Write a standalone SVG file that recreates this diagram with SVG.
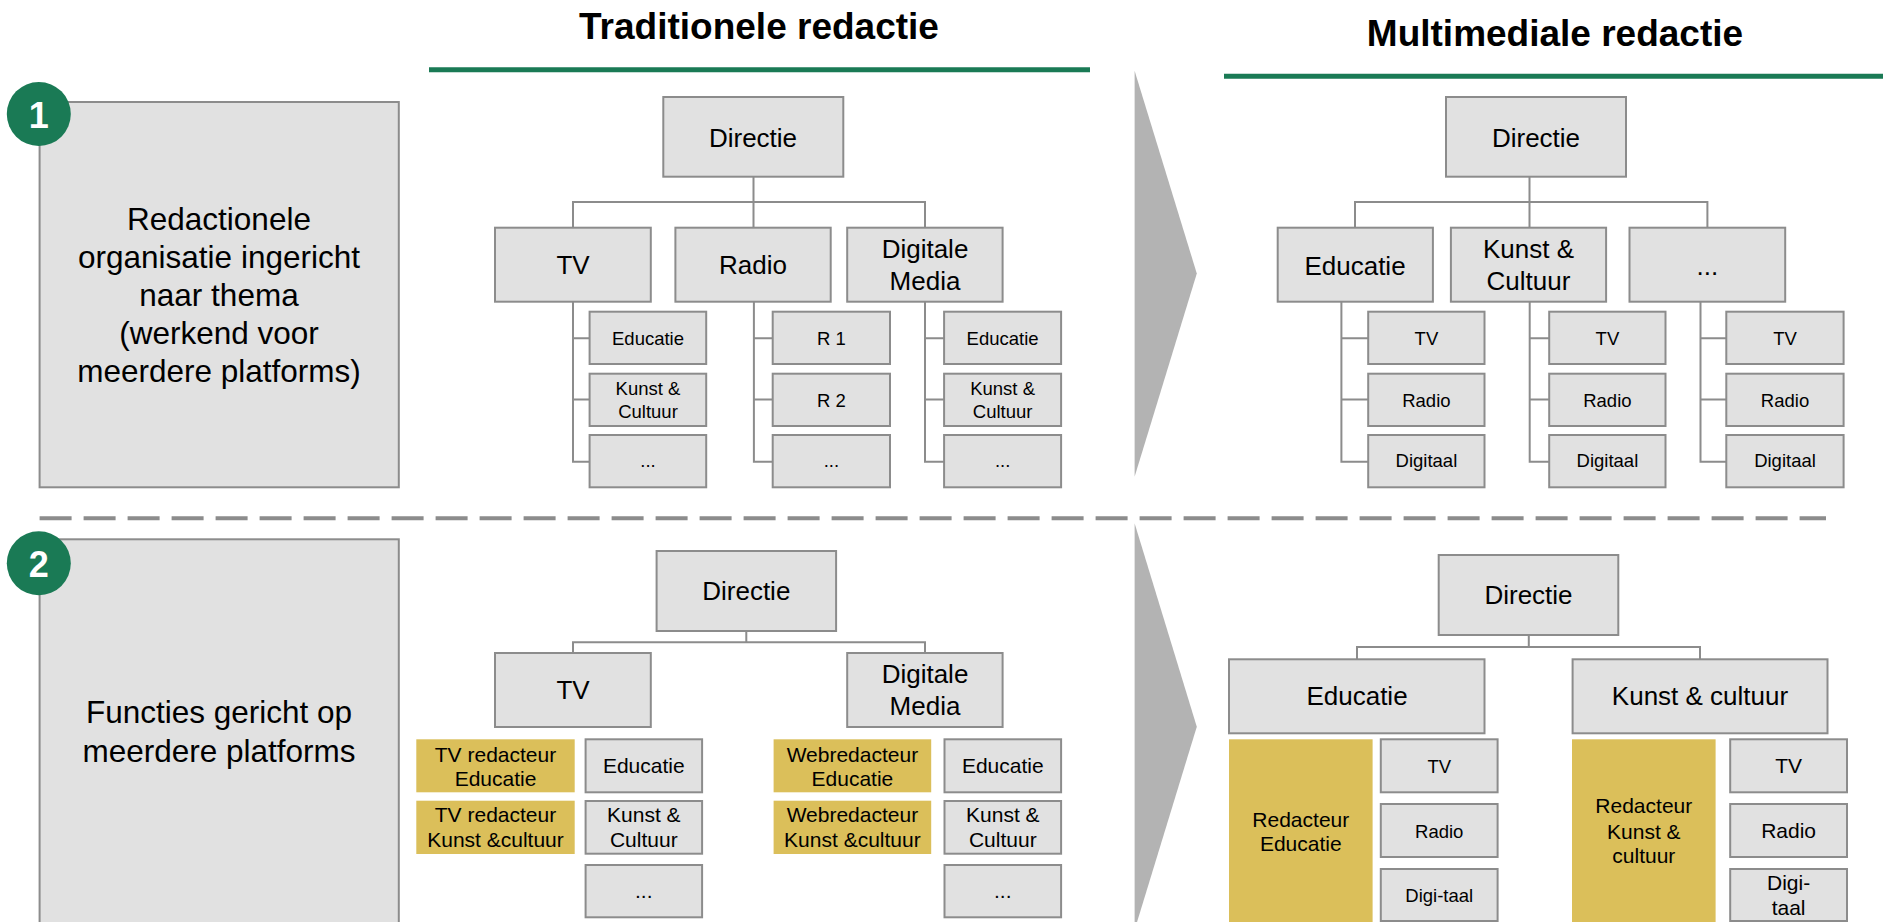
<svg xmlns="http://www.w3.org/2000/svg" width="1883" height="922" viewBox="0 0 1883 922">
<style>
text{font-family:"Liberation Sans",Arial,sans-serif;fill:#000;text-anchor:middle}
.b{fill:#e1e1e1;stroke:#8c8c8c;stroke-width:2}
.g{fill:#dbbf5a}
.c{fill:none;stroke:#8c8c8c;stroke-width:2}
.t{font-weight:bold;font-size:37px}
.big{font-size:31.5px}
.m{font-size:26px}
.s{font-size:18.5px}
.n{font-size:21px}
.badge{fill:#1a7a55}
.bt{fill:#fff;font-weight:bold;font-size:36px}
</style>
<rect width="1883" height="922" fill="#fff"/>
<g id="titles">
<text class="t" x="759" y="39">Traditionele redactie</text>
<line x1="429" y1="69.7" x2="1090" y2="69.7" stroke="#1a7a55" stroke-width="5"/>
<text class="t" x="1555" y="46">Multimediale redactie</text>
<line x1="1224" y1="76.3" x2="1883" y2="76.3" stroke="#1a7a55" stroke-width="5"/>
</g>
<g id="arrows">
<polygon points="1134.6,70.7 1196.8,273.5 1134.6,476.7" fill="#b3b3b3"/>
<polygon points="1134.6,523.3 1196.8,726.7 1134.6,930" fill="#b3b3b3"/>
</g>
<line id="divider" x1="39.6" y1="518.3" x2="1826" y2="518.3" stroke="#8c8c8c" stroke-width="4" stroke-dasharray="32 12"/>
<g id="connectors">
<path class="c" d="M753.5,177V202M573,228V202H925V228M753.5,202V228"/>
<path class="c" d="M573,302V461.7H590M573,338.3H590M573,399.5H590"/>
<path class="c" d="M753.9,302V461.7H773M753.9,338.3H773M753.9,399.5H773"/>
<path class="c" d="M925,302V461.7H944M925,338.3H944M925,399.5H944"/>
<path class="c" d="M1529.5,177V202M1355,228V202H1707.4V228M1529.5,202V228"/>
<path class="c" d="M1341.4,302V461.7H1368M1341.4,338.3H1368M1341.4,399.5H1368"/>
<path class="c" d="M1529.7,302V461.7H1549M1529.7,338.3H1549M1529.7,399.5H1549"/>
<path class="c" d="M1700.5,302V461.7H1726M1700.5,338.3H1726M1700.5,399.5H1726"/>
<path class="c" d="M746.3,631V642.3M573,653V642.3H925V653"/>
<path class="c" d="M1528.8,635V647M1357,659.3V647H1700V659.3"/>
</g>
<g id="box1">
<rect class="b" x="39.6" y="102" width="359.2" height="385.3"/>
<text class="big" x="219" y="230">Redactionele</text>
<text class="big" x="219" y="268">organisatie ingericht</text>
<text class="big" x="219" y="306">naar thema</text>
<text class="big" x="219" y="344">(werkend voor</text>
<text class="big" x="219" y="382">meerdere platforms)</text>
</g>
<g id="badge1"><circle class="badge" cx="38.8" cy="114" r="32"/><text class="bt" x="38.8" y="127.7">1</text></g>
<g id="box2">
<rect class="b" x="39.6" y="539.3" width="359.2" height="400"/>
<text class="big" x="219" y="723.3">Functies gericht op</text>
<text class="big" x="219" y="761.7">meerdere platforms</text>
</g>
<g id="badge2"><circle class="badge" cx="38.8" cy="563.3" r="32"/><text class="bt" x="38.8" y="576.7">2</text></g>

<g id="t1-directie"><rect class="b" x="663.3" y="97" width="180" height="79.7"/><text class="m" x="753" y="146.7">Directie</text></g>
<g id="t1-tv"><rect class="b" x="495" y="227.7" width="155.8" height="74"/><text class="m" x="573" y="274">TV</text></g>
<g id="t1-radio"><rect class="b" x="675.4" y="227.7" width="155.3" height="74"/><text class="m" x="753" y="274">Radio</text></g>
<g id="t1-digitale"><rect class="b" x="847.2" y="227.7" width="155.4" height="74"/><text class="m" x="925" y="258.3">Digitale</text><text class="m" x="925" y="290">Media</text></g>
<g id="t1-tv-edu"><rect class="b" x="589.6" y="311.7" width="116.6" height="52.3"/><text class="s" x="648" y="345">Educatie</text></g>
<g id="t1-tv-kunst"><rect class="b" x="589.6" y="373.7" width="116.6" height="52.3"/><text class="s" x="648" y="395">Kunst &amp;</text><text class="s" x="648" y="418.3">Cultuur</text></g>
<g id="t1-tv-more"><rect class="b" x="589.6" y="435" width="116.6" height="52.3"/><text class="s" x="648" y="466.7">...</text></g>
<g id="t1-r1"><rect class="b" x="772.7" y="311.7" width="117.3" height="52.3"/><text class="s" x="831.4" y="345">R 1</text></g>
<g id="t1-r2"><rect class="b" x="772.7" y="373.7" width="117.3" height="52.3"/><text class="s" x="831.4" y="407">R 2</text></g>
<g id="t1-r-more"><rect class="b" x="772.7" y="435" width="117.3" height="52.3"/><text class="s" x="831.4" y="466.7">...</text></g>
<g id="t1-dm-edu"><rect class="b" x="944.1" y="311.7" width="117" height="52.3"/><text class="s" x="1002.6" y="345">Educatie</text></g>
<g id="t1-dm-kunst"><rect class="b" x="944.1" y="373.7" width="117" height="52.3"/><text class="s" x="1002.6" y="395">Kunst &amp;</text><text class="s" x="1002.6" y="418.3">Cultuur</text></g>
<g id="t1-dm-more"><rect class="b" x="944.1" y="435" width="117" height="52.3"/><text class="s" x="1002.6" y="466.7">...</text></g>

<g id="m1-directie"><rect class="b" x="1446" y="97" width="180" height="79.7"/><text class="m" x="1536" y="146.7">Directie</text></g>
<g id="m1-edu"><rect class="b" x="1277.7" y="227.7" width="155.2" height="74"/><text class="m" x="1355" y="275">Educatie</text></g>
<g id="m1-kunst"><rect class="b" x="1450.9" y="227.7" width="155.2" height="74"/><text class="m" x="1528.5" y="258.3">Kunst &amp;</text><text class="m" x="1528.5" y="290">Cultuur</text></g>
<g id="m1-more"><rect class="b" x="1629.5" y="227.7" width="155.7" height="74"/><text class="m" x="1707.4" y="275">...</text></g>
<g id="m1-edu-tv"><rect class="b" x="1368.2" y="311.7" width="116.3" height="52.3"/><text class="s" x="1426.4" y="345">TV</text></g>
<g id="m1-edu-radio"><rect class="b" x="1368.2" y="373.7" width="116.3" height="52.3"/><text class="s" x="1426.4" y="407">Radio</text></g>
<g id="m1-edu-dig"><rect class="b" x="1368.2" y="435" width="116.3" height="52.3"/><text class="s" x="1426.4" y="467">Digitaal</text></g>
<g id="m1-kunst-tv"><rect class="b" x="1549.2" y="311.7" width="116.3" height="52.3"/><text class="s" x="1607.4" y="345">TV</text></g>
<g id="m1-kunst-radio"><rect class="b" x="1549.2" y="373.7" width="116.3" height="52.3"/><text class="s" x="1607.4" y="407">Radio</text></g>
<g id="m1-kunst-dig"><rect class="b" x="1549.2" y="435" width="116.3" height="52.3"/><text class="s" x="1607.4" y="467">Digitaal</text></g>
<g id="m1-more-tv"><rect class="b" x="1726.3" y="311.7" width="117.3" height="52.3"/><text class="s" x="1785" y="345">TV</text></g>
<g id="m1-more-radio"><rect class="b" x="1726.3" y="373.7" width="117.3" height="52.3"/><text class="s" x="1785" y="407">Radio</text></g>
<g id="m1-more-dig"><rect class="b" x="1726.3" y="435" width="117.3" height="52.3"/><text class="s" x="1785" y="467">Digitaal</text></g>

<g id="t2-directie"><rect class="b" x="656.6" y="551" width="179.5" height="80"/><text class="m" x="746.3" y="600">Directie</text></g>
<g id="t2-tv"><rect class="b" x="495" y="653" width="155.8" height="74"/><text class="m" x="573" y="699">TV</text></g>
<g id="t2-digitale"><rect class="b" x="847.2" y="653" width="155.4" height="74"/><text class="m" x="925" y="683.3">Digitale</text><text class="m" x="925" y="715">Media</text></g>
<g id="t2-tvred-edu"><rect class="g" x="416.3" y="739.3" width="158.4" height="53"/><text class="n" x="495.5" y="761.7">TV redacteur</text><text class="n" x="495.5" y="785.7">Educatie</text></g>
<g id="t2-tvred-kunst"><rect class="g" x="416.3" y="800.7" width="158.4" height="53.3"/><text class="n" x="495.5" y="822.3">TV redacteur</text><text class="n" x="495.5" y="847.3">Kunst &amp;cultuur</text></g>
<g id="t2-tv-edu"><rect class="b" x="585.6" y="739.3" width="116.5" height="53"/><text class="n" x="643.8" y="773.3">Educatie</text></g>
<g id="t2-tv-kunst"><rect class="b" x="585.6" y="801" width="116.5" height="52.7"/><text class="n" x="643.8" y="822.3">Kunst &amp;</text><text class="n" x="643.8" y="847.3">Cultuur</text></g>
<g id="t2-tv-more"><rect class="b" x="585.6" y="865" width="116.5" height="52.3"/><text class="n" x="643.8" y="898">...</text></g>
<g id="t2-webred-edu"><rect class="g" x="773.6" y="739.3" width="157.6" height="53"/><text class="n" x="852.4" y="761.7">Webredacteur</text><text class="n" x="852.4" y="785.7">Educatie</text></g>
<g id="t2-webred-kunst"><rect class="g" x="773.6" y="800.7" width="157.6" height="53.3"/><text class="n" x="852.4" y="822.3">Webredacteur</text><text class="n" x="852.4" y="847.3">Kunst &amp;cultuur</text></g>
<g id="t2-dm-edu"><rect class="b" x="944.5" y="739.3" width="116.6" height="53"/><text class="n" x="1002.8" y="773.3">Educatie</text></g>
<g id="t2-dm-kunst"><rect class="b" x="944.5" y="801" width="116.6" height="52.7"/><text class="n" x="1002.8" y="822.3">Kunst &amp;</text><text class="n" x="1002.8" y="847.3">Cultuur</text></g>
<g id="t2-dm-more"><rect class="b" x="944.5" y="865" width="116.6" height="52.3"/><text class="n" x="1002.8" y="898">...</text></g>

<g id="m2-directie"><rect class="b" x="1438.7" y="555" width="179.6" height="80"/><text class="m" x="1528.5" y="604">Directie</text></g>
<g id="m2-edu"><rect class="b" x="1229" y="659.3" width="255.5" height="74"/><text class="m" x="1357" y="705">Educatie</text></g>
<g id="m2-kunst"><rect class="b" x="1572.6" y="659.3" width="254.9" height="74"/><text class="m" x="1700" y="705">Kunst &amp; cultuur</text></g>
<g id="m2-red-edu"><rect class="g" x="1229" y="739.3" width="143.6" height="190"/><text class="n" x="1300.8" y="826.7">Redacteur</text><text class="n" x="1300.8" y="850.7">Educatie</text></g>
<g id="m2-edu-tv"><rect class="b" x="1380.8" y="739.3" width="116.8" height="53"/><text class="s" x="1439.2" y="772.7">TV</text></g>
<g id="m2-edu-radio"><rect class="b" x="1380.8" y="804" width="116.8" height="53"/><text class="s" x="1439.2" y="837.7">Radio</text></g>
<g id="m2-edu-dig"><rect class="b" x="1380.8" y="869" width="116.8" height="52"/><text class="s" x="1439.2" y="901.7">Digi-taal</text></g>
<g id="m2-red-kunst"><rect class="g" x="1572" y="739.3" width="143.6" height="190"/><text class="n" x="1643.8" y="813.3">Redacteur</text><text class="n" x="1643.8" y="839">Kunst &amp;</text><text class="n" x="1643.8" y="863.3">cultuur</text></g>
<g id="m2-kunst-tv"><rect class="b" x="1730.2" y="739.3" width="116.8" height="53"/><text class="n" x="1788.6" y="773.3">TV</text></g>
<g id="m2-kunst-radio"><rect class="b" x="1730.2" y="804" width="116.8" height="53"/><text class="n" x="1788.6" y="838.3">Radio</text></g>
<g id="m2-kunst-dig"><rect class="b" x="1730.2" y="869" width="116.8" height="52"/><text class="n" x="1788.6" y="890">Digi-</text><text class="n" x="1788.6" y="915">taal</text></g>
</svg>
